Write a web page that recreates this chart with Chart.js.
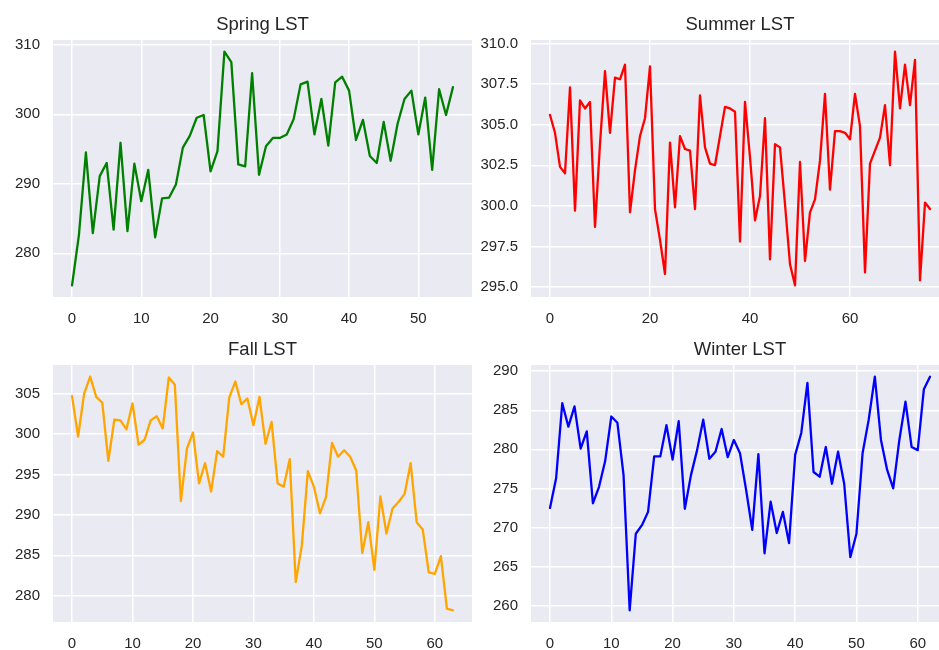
<!DOCTYPE html>
<html>
<head>
<meta charset="utf-8">
<script src="https://cdn.jsdelivr.net/npm/chart.js@4/dist/chart.umd.min.js"></script>
<style>
  html, body { margin:0; padding:0; background:#ffffff; width:939px; height:650px; overflow:hidden; }
  canvas { position:absolute; }
</style>
</head>
<body>
<canvas id="spring" width="472" height="330" style="left:0px;top:0px;"></canvas>
<canvas id="summer" width="477" height="330" style="left:472px;top:0px;"></canvas>
<canvas id="fall" width="472" height="325" style="left:0px;top:325px;"></canvas>
<canvas id="winter" width="477" height="325" style="left:472px;top:325px;"></canvas>
<script>
// ---- data ----
const springTitle = "Spring LST";
const summerTitle = "Summer LST";
const fallTitle = "Fall LST";
const winterTitle = "Winter LST";

const springLST = [275.4, 282.7, 294.5, 282.9, 291.1, 293.0, 283.4, 295.9, 283.2, 292.9,
  287.5, 292.0, 282.3, 287.9, 288.0, 289.9, 295.2, 296.9, 299.5, 299.9,
  291.8, 294.7, 309.0, 307.5, 292.8, 292.5, 305.9, 291.3, 295.4, 296.6,
  296.6, 297.1, 299.3, 304.3, 304.7, 297.1, 302.2, 295.5, 304.6, 305.4,
  303.4, 296.3, 299.2, 294.0, 293.0, 298.9, 293.3, 298.6, 302.2, 303.4,
  297.1, 302.4, 292.0, 303.6, 299.9, 303.9];

const summerLST = [305.6, 304.5, 302.4, 302.0, 307.3, 299.7, 306.5, 306.0, 306.4, 298.7,
  303.8, 308.3, 304.5, 307.9, 307.8, 308.7, 299.6, 302.2, 304.3, 305.4,
  308.6, 299.8, 297.9, 295.8, 303.9, 299.9, 304.3, 303.5, 303.4, 299.8,
  306.8, 303.6, 302.6, 302.5, 304.3, 306.1, 306.0, 305.8, 297.8, 306.4,
  303.0, 299.1, 300.6, 305.4, 296.7, 303.8, 303.6, 300.1, 296.4, 295.1,
  302.7, 296.6, 299.6, 300.4, 302.8, 306.9, 301.0, 304.6, 304.6, 304.5,
  304.1, 306.9, 304.9, 295.9, 302.6, 303.4, 304.2, 306.2, 302.5, 309.5,
  306.0, 308.7, 306.2, 309.0, 295.4, 300.2, 299.8];

const fallLST = [304.7, 299.7, 305.0, 307.1, 304.6, 303.9, 296.7, 301.8, 301.7, 300.6,
  303.8, 298.7, 299.3, 301.7, 302.2, 300.7, 307.0, 306.1, 291.7, 298.2,
  300.2, 293.9, 296.4, 292.9, 297.9, 297.2, 304.5, 306.5, 303.7, 304.4,
  301.1, 304.6, 298.8, 301.5, 293.9, 293.5, 296.9, 281.7, 286.2, 295.4,
  293.5, 290.2, 292.2, 298.9, 297.2, 298.0, 297.2, 295.5, 285.3, 289.1,
  283.2, 292.3, 287.7, 290.8, 291.6, 292.6, 296.4, 289.1, 288.2, 282.9,
  282.7, 284.9, 278.4, 278.2];

const winterLST = [272.5, 276.3, 285.9, 282.9, 285.5, 280.1, 282.3, 273.1, 275.2, 278.5,
  284.2, 283.4, 276.7, 259.4, 269.2, 270.3, 272.0, 279.1, 279.1, 283.1,
  278.7, 283.6, 272.4, 276.7, 279.9, 283.8, 278.8, 279.7, 282.6, 279.0,
  281.2, 279.5, 274.8, 269.7, 279.4, 266.7, 273.3, 269.3, 272.0, 268.0,
  279.3, 282.1, 288.5, 277.1, 276.5, 280.3, 275.6, 279.7, 275.6, 266.2,
  269.2, 279.5, 283.8, 289.3, 281.2, 277.4, 275.0, 281.2, 286.1, 280.3,
  279.9, 287.7, 289.3];

// tick steps
const springXStep = 10, springYStep = 10;
const summerXStep = 20, summerYStep = 2.5;
const fallXStep = 10, fallYStep = 5;
const winterXStep = 10, winterYStep = 5;

// ---- rendering ----
const FONT = "'Liberation Sans', Arial, Helvetica, sans-serif";
const TEXT = '#262626';

const bgPlugin = {
  id: 'axesBg',
  beforeDraw(chart) {
    const a = chart.chartArea, ctx = chart.ctx;
    ctx.save();
    ctx.fillStyle = '#EAEAF2';
    ctx.fillRect(a.left, a.top, a.right - a.left, a.bottom - a.top);
    ctx.restore();
  }
};

function makeChart(id, values, color, title, xStep, yStep, yDecimals, yW, xH) {
  const n = values.length;
  const lo = Math.min(...values), hi = Math.max(...values);
  const m = (hi - lo) * 0.05;
  const pts = values.map((v, i) => ({ x: i, y: v }));
  return new Chart(document.getElementById(id), {
    type: 'line',
    data: { datasets: [{ data: pts, borderColor: color, backgroundColor: color,
      borderWidth: 2.3, pointRadius: 0, tension: 0, fill: false,
      borderJoinStyle: 'round', borderCapStyle: 'round' }] },
    options: {
      responsive: false, animation: false, devicePixelRatio: 1,
      layout: { padding: 0 },
      plugins: {
        legend: { display: false },
        tooltip: { enabled: false },
        title: { display: true, text: title, fullSize: false, color: TEXT,
          font: { family: FONT, size: 18.5, weight: 'normal', lineHeight: 1.2 },
          padding: { top: 14, bottom: 3.8 } }
      },
      scales: {
        x: {
          type: 'linear', min: -0.05 * (n - 1), max: 1.05 * (n - 1),
          ticks: { stepSize: xStep, includeBounds: false, color: TEXT, padding: 13,
            font: { family: FONT, size: 15 }, maxRotation: 0, autoSkip: false,
            callback: v => String(v) },
          grid: { color: '#FFFFFF', lineWidth: 1.5, drawTicks: false },
          border: { display: false },
          afterFit(s) { s.height = xH; }
        },
        y: {
          type: 'linear', min: lo - m, max: hi + m,
          ticks: { stepSize: yStep, includeBounds: false, color: TEXT, padding: 13,
            font: { family: FONT, size: 15 }, autoSkip: false,
            callback: v => Number(v).toFixed(yDecimals) },
          grid: { color: '#FFFFFF', lineWidth: 1.5, drawTicks: false },
          border: { display: false },
          afterFit(s) { s.width = yW; }
        }
      }
    },
    plugins: [bgPlugin]
  });
}

makeChart('spring', springLST, '#008000', springTitle, springXStep, springYStep, 0, 53, 33);
makeChart('summer', summerLST, '#FF0000', summerTitle, summerXStep, summerYStep, 1, 59, 33);
makeChart('fall', fallLST, '#FFA500', fallTitle, fallXStep, fallYStep, 0, 53, 28);
makeChart('winter', winterLST, '#0000FF', winterTitle, winterXStep, winterYStep, 0, 59, 28);
</script>
</body>
</html>
